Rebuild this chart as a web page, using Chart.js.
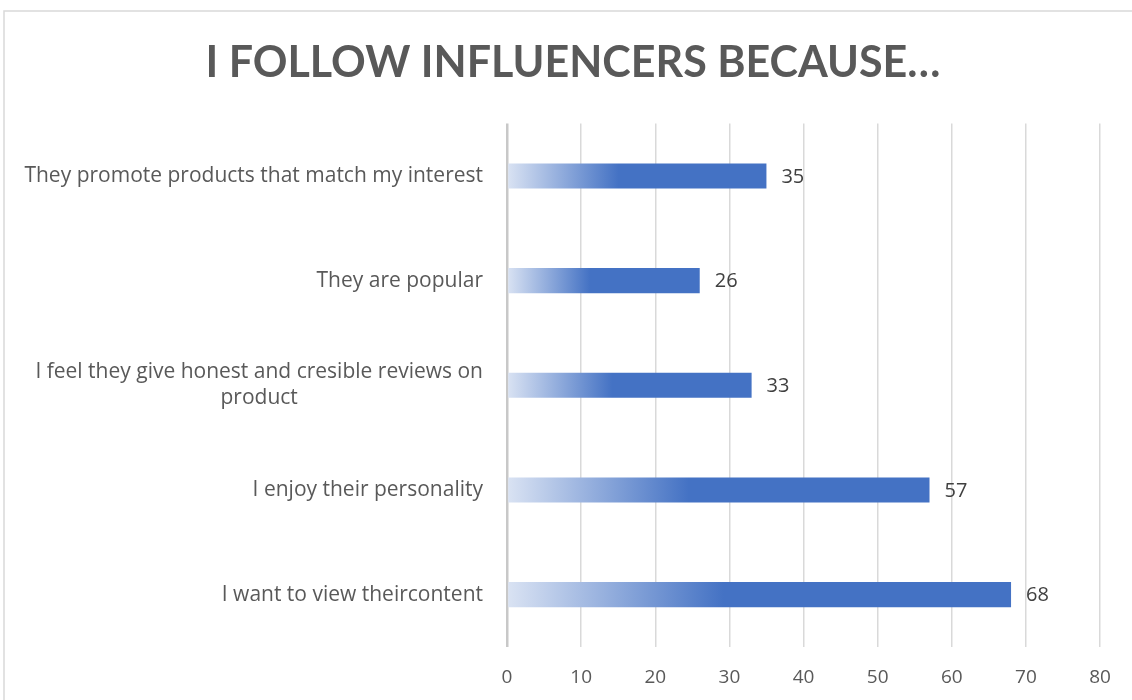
<!DOCTYPE html>
<html>
<head>
<meta charset="utf-8">
<script src="https://cdn.jsdelivr.net/npm/chart.js@4.4.1/dist/chart.umd.min.js"></script>
<style>
  html, body { margin: 0; padding: 0; background: #ffffff; }
  #wrap { width: 1132px; height: 700px; }
</style>
</head>
<body>
<div id="wrap"><canvas id="chart" width="1132" height="700"></canvas></div>
<script>
// Survey answers, top to bottom
const categories = [
  'They promote products that match my interest',
  'They are popular',
  ['I feel they give honest and cresible reviews on', 'product'],
  'I enjoy their personality',
  'I want to view theircontent'
];
const responses = [35, 26, 33, 57, 68];
const xTicks = [0, 10, 20, 30, 40, 50, 60, 70, 80];

const BLUE = '#4472C4';
const PALE = '#DAE3F3';
const FONT = '"Open Sans", Lato, sans-serif';
const TITLE_FONT = 'Lato, "Open Sans", sans-serif';

// Light frame around the whole chart
const framePlugin = {
  id: 'frame',
  beforeDraw(chart) {
    const c = chart.ctx;
    c.save();
    c.fillStyle = '#ffffff';
    c.fillRect(0, 0, chart.width, chart.height);
    c.strokeStyle = '#d9d9d9';
    c.lineWidth = 1.5;
    c.strokeRect(4, 11, chart.width + 20, chart.height + 20);
    c.restore();
  }
};

// Category labels: right aligned, wrapped lines centred under the first line
const categoryLabels = {
  id: 'categoryLabels',
  afterDraw(chart) {
    const c = chart.ctx;
    const y = chart.scales.y;
    const right = chart.chartArea.left - 24;
    c.save();
    c.font = '21px ' + FONT;
    c.fillStyle = '#595959';
    c.textBaseline = 'middle';
    c.textAlign = 'center';
    categories.forEach((lab, i) => {
      const cy = y.getPixelForValue(i);
      const lines = Array.isArray(lab) ? lab : [lab];
      const lh = 26;
      const w0 = c.measureText(lines[0]).width;
      const mid = right - w0 / 2;
      lines.forEach((ln, j) => {
        const ly = cy + (j - (lines.length - 1) / 2) * lh;
        c.fillText(ln, mid, ly);
      });
    });
    c.restore();
  }
};

// Value printed just past the end of each bar
const valueLabels = {
  id: 'valueLabels',
  afterDatasetsDraw(chart) {
    const c = chart.ctx;
    const meta = chart.getDatasetMeta(0);
    c.save();
    c.font = '20px ' + FONT;
    c.fillStyle = '#404040';
    c.textAlign = 'left';
    c.textBaseline = 'middle';
    meta.data.forEach((bar, i) => {
      c.fillText(String(responses[i]), bar.x + 15, bar.y + 1);
    });
    c.restore();
  }
};

function barGradient(ctx) {
  const chart = ctx.chart;
  if (!chart.chartArea) return BLUE;
  const xs = chart.scales.x;
  const x0 = xs.getPixelForValue(0);
  const x1 = xs.getPixelForValue(ctx.raw);
  const g = chart.ctx.createLinearGradient(x0, 0, x1, 0);
  g.addColorStop(0, PALE);
  g.addColorStop(0.43, BLUE);
  g.addColorStop(1, BLUE);
  return g;
}

new Chart(document.getElementById('chart'), {
  type: 'bar',
  data: {
    labels: categories,
    datasets: [{
      data: responses,
      backgroundColor: barGradient,
      borderWidth: 0,
      categoryPercentage: 1,
      barPercentage: 0.24
    }]
  },
  plugins: [framePlugin, categoryLabels, valueLabels],
  options: {
    indexAxis: 'y',
    responsive: false,
    animation: false,
    layout: { padding: { left: 46, right: 32, top: 0, bottom: 0 } },
    plugins: {
      legend: { display: false },
      tooltip: { enabled: false },
      title: {
        display: true,
        text: 'I FOLLOW INFLUENCERS BECAUSE…',
        color: '#595959',
        font: { family: TITLE_FONT, size: 43, weight: 'bold' },
        padding: { top: 37, bottom: 35 }
      }
    },
    scales: {
      x: {
        min: 0,
        max: 80,
        afterBuildTicks(scale) {
          scale.ticks = xTicks.map(v => ({ value: v }));
        },
        afterFit(scale) { scale.height = 53; },
        grid: {
          color: ctx => (ctx.tick && ctx.tick.value === 0 ? '#c8c8c8' : '#d9d9d9'),
          lineWidth: ctx => (ctx.tick && ctx.tick.value === 0 ? 2.5 : 1.5),
          drawTicks: false
        },
        border: { display: false },
        ticks: {
          color: '#595959',
          padding: 19,
          font: { family: FONT, size: 19 }
        }
      },
      y: {
        afterFit(scale) { scale.width = 507 - 46; },
        grid: { display: false, drawTicks: false },
        border: { display: false },
        ticks: { display: false }
      }
    }
  }
});
</script>
</body>
</html>
